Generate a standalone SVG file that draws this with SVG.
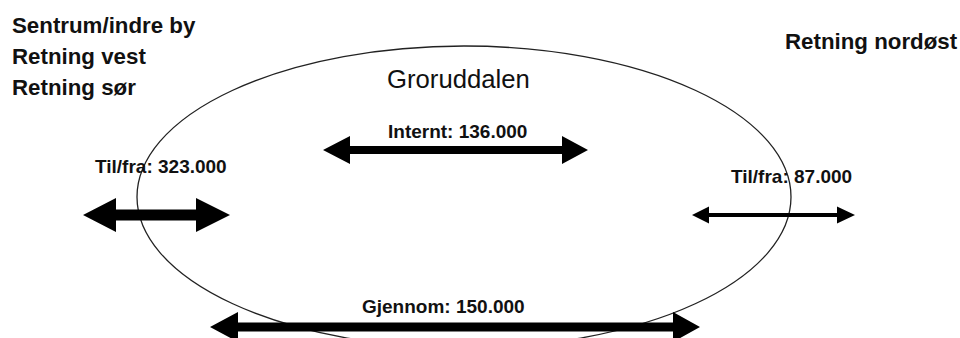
<svg xmlns="http://www.w3.org/2000/svg" width="960" height="338" viewBox="0 0 960 338">
<style>
.b{font-family:"Liberation Sans",Arial,sans-serif;font-weight:bold;fill:#111}
.big{font-size:22.3px}
.lab{font-size:19px}
.r{font-family:"Liberation Sans",Arial,sans-serif;fill:#111;font-size:25.7px}
.arr{fill:#000}
</style>
<rect width="960" height="338" fill="#fff"/>
<g id="groruddalen">
<ellipse cx="464" cy="197" rx="327" ry="151" fill="none" stroke="#222" stroke-width="1.3"/>
<text class="r" x="387" y="88">Groruddalen</text>
</g>
<g id="sentrum">
<text class="b big" x="12" y="33">Sentrum/indre by</text>
<text class="b big" x="12" y="64">Retning vest</text>
<text class="b big" x="12" y="95">Retning sør</text>
</g>
<g id="nordost">
<text class="b big" x="785" y="49">Retning nordøst</text>
</g>
<g id="connectors">
<g id="internt">
<polygon class="arr" points="323,150 350,136 350,146 562,146 562,136 588,150 562,164 562,154 350,154 350,164"/>
<text class="b lab" x="388" y="138">Internt: 136.000</text>
</g>
<g id="tilfra-vest">
<polygon class="arr" points="83,215 116,198 116,209.5 196,209.5 196,198 230,215 196,232 196,220.5 116,220.5 116,232"/>
<text class="b lab" x="95" y="173">Til/fra: 323.000</text>
</g>
<g id="tilfra-nordost">
<polygon class="arr" points="692,215 709,206.5 709,213 837,213 837,206.5 855,215 837,223.5 837,217 709,217 709,223.5"/>
<text class="b lab" x="731" y="183">Til/fra: 87.000</text>
</g>
<g id="gjennom">
<polygon class="arr" points="210,327 238,312 238,322.5 673,322.5 673,312 700,327 673,342 673,331.5 238,331.5 238,342"/>
<text class="b lab" x="362" y="313">Gjennom: 150.000</text>
</g>
</g>
</svg>
